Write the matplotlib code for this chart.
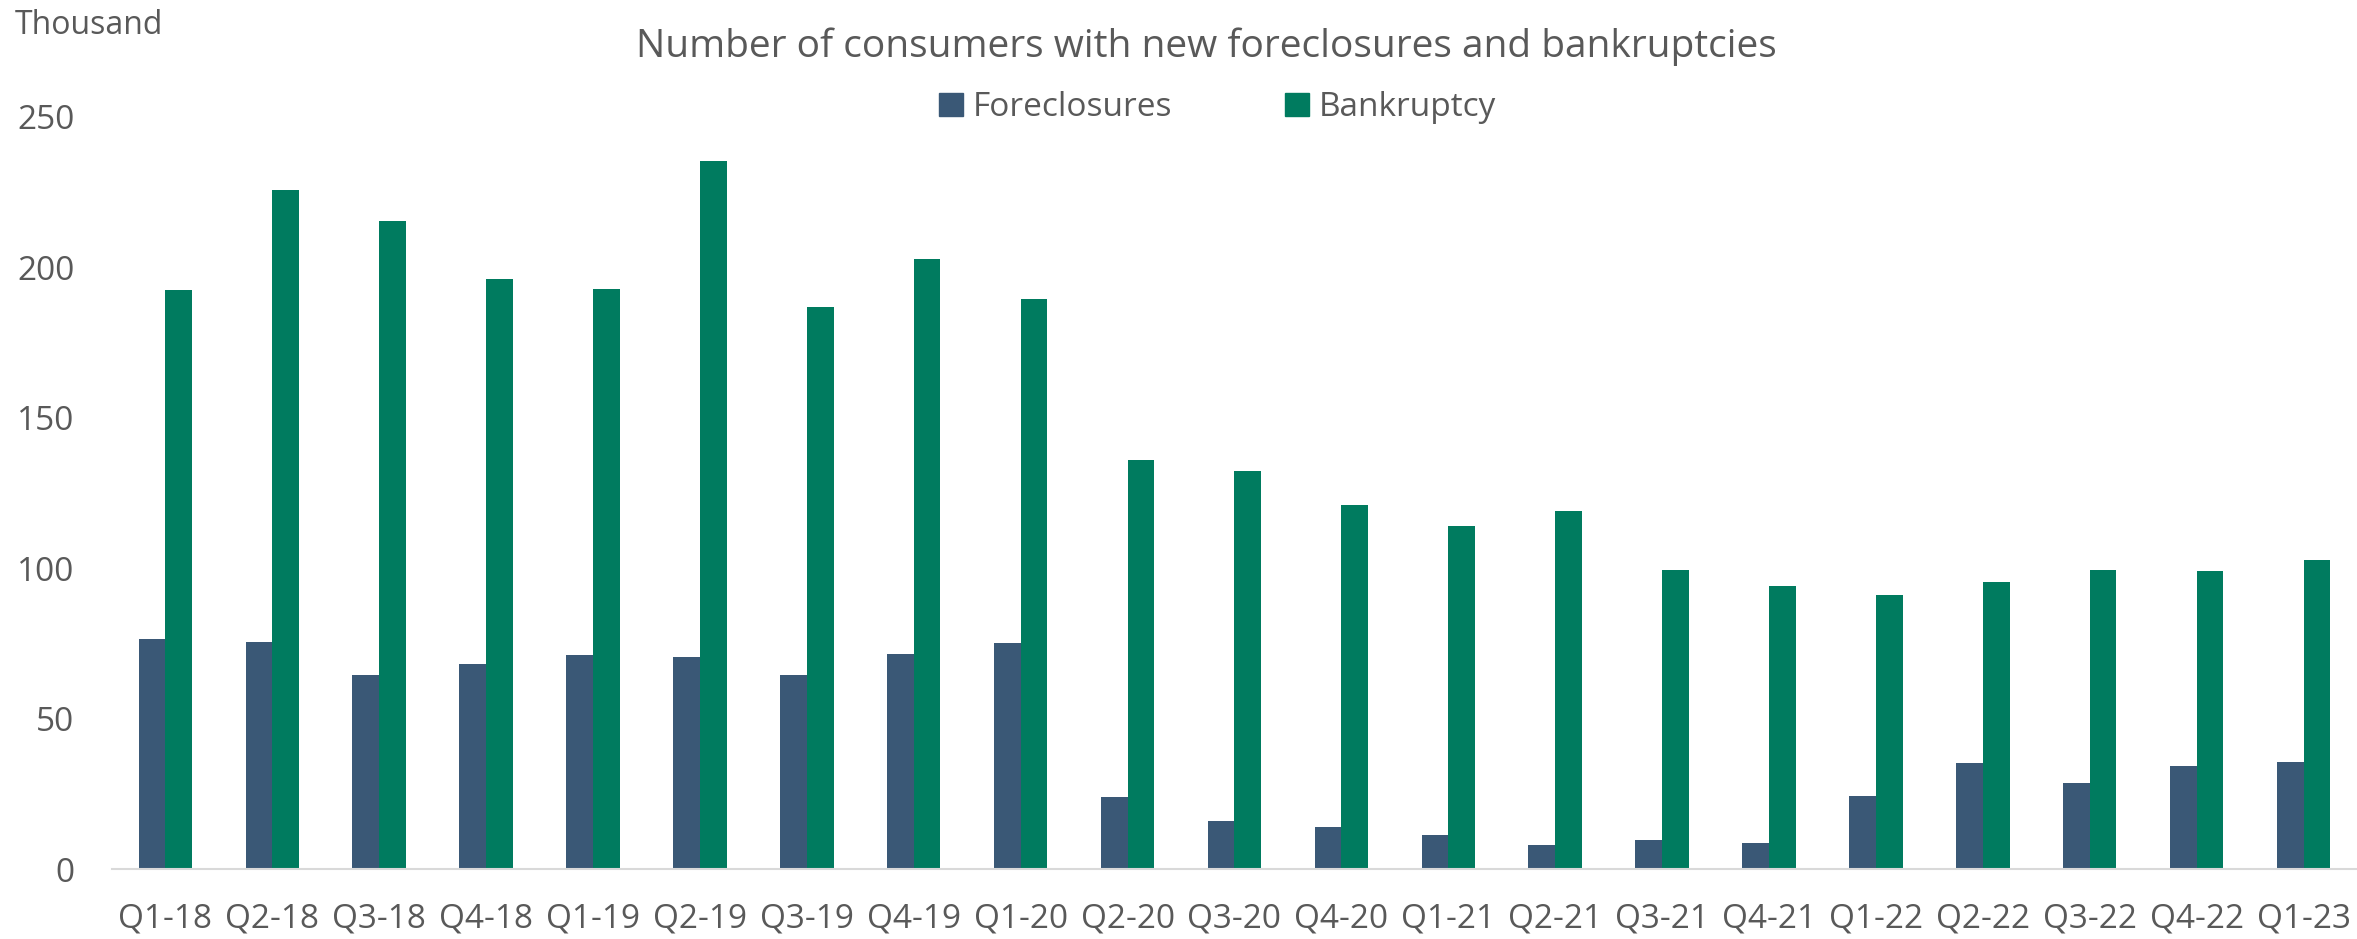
import matplotlib.pyplot as plt
from matplotlib.patches import Patch
import numpy as np

plt.rcParams['font.family'] = ['Open Sans', 'DejaVu Sans']

quarters = ["Q1-18", "Q2-18", "Q3-18", "Q4-18", "Q1-19", "Q2-19", "Q3-19",
            "Q4-19", "Q1-20", "Q2-20", "Q3-20", "Q4-20", "Q1-21", "Q2-21",
            "Q3-21", "Q4-21", "Q1-22", "Q2-22", "Q3-22", "Q4-22", "Q1-23"]
foreclosures = [76.5, 75.5, 64.5, 68, 71, 70.5, 64.5, 71.5, 75, 23.8, 16,
                14, 11.2, 7.9, 9.5, 8.6, 24.2, 35.1, 28.5, 34.2, 35.6]
bankruptcy = [192.3, 225.7, 215.4, 196, 192.8, 235.4, 186.8, 202.7, 189.5,
              136, 132.3, 121, 114, 119.1, 99.5, 94, 91.1, 95.4, 99.3, 99, 102.7]

FORE_COLOR = '#3A5876'
BANK_COLOR = '#007B5F'
TEXT_COLOR = '#595959'

fig = plt.figure(figsize=(23.57, 9.39), dpi=100)
ax = fig.add_axes([0.0475, 0.0745, 0.9525, 0.801])

x = np.arange(len(quarters))
w = 0.25
ax.bar(x - w / 2, foreclosures, width=w, color=FORE_COLOR)
ax.bar(x + w / 2, bankruptcy, width=w, color=BANK_COLOR)

ax.set_xlim(-0.5, len(quarters) - 0.5)
ax.set_ylim(0, 250)
ax.set_yticks([0, 50, 100, 150, 200, 250])
ax.set_xticks(x)
ax.set_xticklabels(quarters)
ax.tick_params(axis='both', length=0, labelsize=24, colors=TEXT_COLOR)
ax.tick_params(axis='y', pad=27)
ax.tick_params(axis='x', pad=24)

for side in ['top', 'right', 'left']:
    ax.spines[side].set_visible(False)
ax.spines['bottom'].set_color('#D9D9D9')
ax.spines['bottom'].set_linewidth(1.5)

fig.text(0.0064, 0.973, "Thousand", fontsize=23, color=TEXT_COLOR,
         ha='left', va='center')
fig.text(0.512, 0.950, "Number of consumers with new foreclosures and bankruptcies",
         fontsize=28, color=TEXT_COLOR, ha='center', va='center')

handles = [Patch(color=FORE_COLOR, label="Foreclosures"),
           Patch(color=BANK_COLOR, label="Bankruptcy")]
leg = fig.legend(handles=handles, loc='center', bbox_to_anchor=(0.5166, 0.885),
                 ncol=2, frameon=False, fontsize=24, handlelength=0.7,
                 handleheight=0.7, handletextpad=0.3, columnspacing=3.4)
for t in leg.get_texts():
    t.set_color(TEXT_COLOR)

fig.savefig("out.png", dpi=100, facecolor='white')
